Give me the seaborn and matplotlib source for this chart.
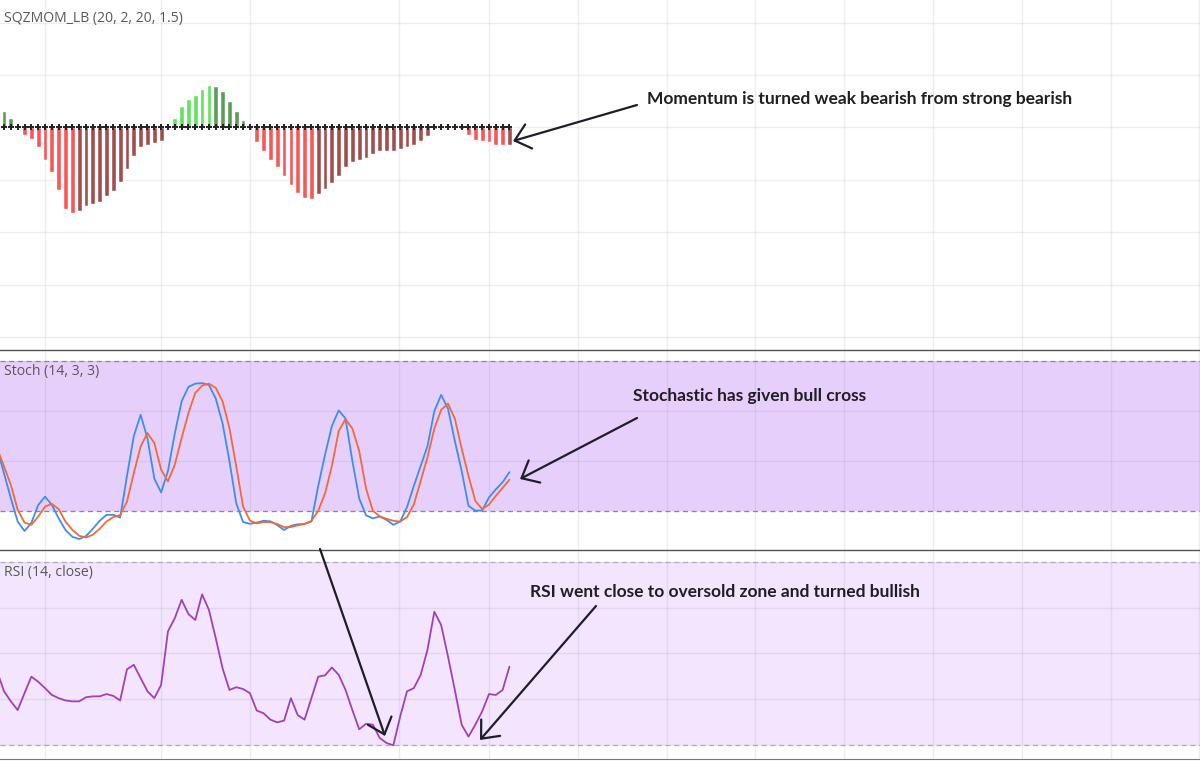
import numpy as np
import pandas as pd
import seaborn as sns
import matplotlib.pyplot as plt

# bar index -1 .. 74 (bar -1 sits just left of the visible area)
bars = list(range(-1, 75))

# squeeze momentum histogram
sqz_values = [24,
              16, 8.9, -0.5, -7.4, -11.2, -19.1, -30.6, -43, -59.3, -77.4,
              -81.3, -79.3, -74.6, -72.7, -70.7, -65, -60.2, -51.6, -39.2, -26.8,
              -19.1, -16.3, -15.3, -13.4, 0.5, 8.6, 20.1, 26.8, 30.6, 36.3,
              40.2, 39.2, 34.4, 24.9, 15.3, 6.7, -2.6, -14.3, -22.7, -30.6,
              -38.2, -46.8, -54.5, -62.1, -66.9, -67.9, -64, -58.3, -53.5, -45.9,
              -37.3, -32.5, -30.6, -28.7, -25.8, -22.9, -22, -22, -21, -18.2,
              -16.3, -13.4, -8.6, -1, 1.4, 2.4, 2.6, -1.9, -7.4, -11.5,
              -13.4, -14.3, -16.3, -17.2, -16.3]

# stochastic %K and %D
stoch_k = [45,
           35, 25, 15.7, 11.9, 15.2, 22.3, 25.7, 22.4, 17, 12.3,
           9.6, 8.7, 9.9, 12.8, 16, 18.4, 18.4, 17.3, 34, 50,
           58.5, 49, 33, 27.4, 36, 51, 63.9, 69.7, 71, 71.2,
           70.5, 65, 55, 40, 23, 15.5, 14.8, 15.3, 16, 15.8,
           14.3, 12.3, 14, 14.6, 14.8, 15.7, 30, 42.5, 54, 60.3,
           57, 40, 25, 18.2, 17, 17.7, 16.4, 14.4, 15.7, 21.5,
           30, 38, 46, 60, 66.5, 61, 48, 36, 22, 20.1,
           20.1, 25.4, 28.6, 31.5, 35.5]
stoch_d = [45,
           37.8, 30.4, 20.4, 15.3, 14.4, 17.7, 21.7, 22.8, 20.7, 15.7,
           12.4, 10, 9.3, 10.4, 12.8, 15.7, 17.5, 18.3, 23.7, 35.1,
           45.8, 51.2, 47.2, 36.5, 31.8, 38.5, 49.2, 59.2, 67.3, 70.2,
           71, 69.3, 63.9, 53.2, 37.8, 21.7, 16.1, 15, 15.5, 15.5,
           14.7, 13.5, 13.5, 14.2, 14.7, 16, 20, 27, 38, 52,
           56.8, 53, 44, 29, 20, 17.8, 16.8, 16, 15.7, 17.5,
           22.6, 32, 41.5, 53, 60.5, 63, 57, 45, 34, 24,
           20.7, 22.5, 26, 29.2, 32.5]

# RSI (14, close)
rsi_values = [46,
              41.7, 39.5, 37.6, 41.3, 44.9, 43.8, 42.4, 40.9, 40.2, 39.7,
              39.5, 39.5, 40.4, 40.6, 40.6, 41.1, 40.7, 39.7, 46.5, 47.5,
              44.6, 41.7, 40.2, 43.1, 54.8, 57.7, 61.7, 58.6, 57.3, 62.9,
              59.5, 53.3, 46.7, 42, 42.6, 42.2, 41.3, 37.5, 36.9, 35.5,
              34.9, 35.3, 40.2, 36.5, 35.5, 40.2, 44.9, 45.2, 46.9, 45.3,
              42, 37.6, 33.4, 34.6, 34.4, 31.5, 30.4, 29.9, 36.2, 41.7,
              42.4, 45.3, 50.8, 59.1, 56.2, 49.3, 42, 34.4, 31.8, 34.4,
              37.3, 41.1, 40.9, 42, 47.1]

# time axis grid (bar positions of the date marks)
time_grid = [6, 23, 36, 57.8, 71, 84, 97, 110, 123, 136, 149, 162, 175]

# bar colouring as in the SQZMOM_LB script
states = []
for i, v in enumerate(sqz_values):
    prev = sqz_values[i - 1] if i > 0 else v
    if v > 0:
        states.append("lime" if v > prev else "green")
    else:
        states.append("red" if v < prev else "maroon")
palette = {"lime": "#5ee45e", "green": "#599f59", "red": "#fb5656", "maroon": "#a14f4e"}

sqz = pd.DataFrame({"bar": bars, "momentum": sqz_values, "state": states})
osc = pd.DataFrame({"bar": bars, "k": stoch_k, "d": stoch_d, "rsi": rsi_values})

sns.set_style("white")
plt.rcParams["font.family"] = ["Lato", "DejaVu Sans"]

W, H = 1200, 761
fig = plt.figure(figsize=(W / 100, H / 100), dpi=100)
ax1 = fig.add_axes([0, (H - 349.5) / H, 1, 349.5 / H])
ax2 = fig.add_axes([0, (H - 550) / H, 1, 200.5 / H])
ax3 = fig.add_axes([0, (H - 759) / H, 1, 209 / H])

grid_kw = dict(color="#6a7a8a", alpha=0.12, linewidth=1)
title_kw = dict(fontsize=10.1, color="#585858", va="center",
                family=["Open Sans", "DejaVu Sans"])

# --- squeeze momentum ---
sns.barplot(data=sqz, x="bar", y="momentum", hue="state", palette=palette,
            native_scale=True, dodge=False, width=0.7, saturation=1,
            errorbar=None, legend=False, ax=ax1, zorder=2)
sns.scatterplot(x=bars, y=np.zeros(len(bars)), marker="+", s=18, color="#222222",
                linewidth=1.4, ax=ax1, zorder=3)
ax1.set_ylim(-212, 121.7)
ax1.set_yticks([100, 50, 0, -50, -100, -150, -200])
ax1.text(0.003, 0.946, "SQZMOM_LB (20, 2, 20, 1.5)", transform=ax1.transAxes, **title_kw)

# --- stochastic ---
ax2.axhspan(20, 80, color="#e7cffc", zorder=0.2, linewidth=0)
for lvl in (20, 80):
    ax2.axhline(lvl, color="#8a8a8a", linestyle=(0, (4, 3)), linewidth=0.9, zorder=1)
sns.lineplot(data=osc, x="bar", y="k", color="#3b8ef0", linewidth=1.3, ax=ax2, zorder=3)
sns.lineplot(data=osc, x="bar", y="d", color="#f2693c", linewidth=1.3, ax=ax2, zorder=3)
ax2.set_ylim(4.3, 84.7)
ax2.set_yticks([20, 40, 60, 80])
ax2.text(0.003, 0.89, "Stoch (14, 3, 3)", transform=ax2.transAxes, **title_kw)

# --- RSI ---
ax3.axhspan(30, 70, color="#f2e5fd", zorder=0.2, linewidth=0)
for lvl in (30, 70):
    ax3.axhline(lvl, color="#b4a8c4", linestyle=(0, (4, 3)), linewidth=0.9, zorder=1)
sns.lineplot(data=osc, x="bar", y="rsi", color="#a23fbd", linewidth=1.3, ax=ax3, zorder=3)
ax3.set_ylim(26.9, 72.6)
ax3.set_yticks([30, 40, 50, 60, 70])
ax3.text(0.003, 0.89, "RSI (14, close)", transform=ax3.transAxes, **title_kw)

for ax in (ax1, ax2, ax3):
    ax.set_xlim(-0.59, 175.1)
    ax.set_xticks(time_grid)
    ax.grid(True, **grid_kw)
    ax.set_axisbelow(True)
    ax.set_xlabel("")
    ax.set_ylabel("")
    ax.tick_params(labelleft=False, labelbottom=False, length=0)
    ax.set_facecolor("none")
    for side in ("left", "right", "top", "bottom"):
        ax.spines[side].set_visible(False)

for ax in (ax2, ax3):
    ax.spines["top"].set_visible(True)
    ax.spines["top"].set_color("#555555")
    ax.spines["top"].set_linewidth(1)
ax3.spines["bottom"].set_visible(True)
ax3.spines["bottom"].set_color("#777777")
ax3.tick_params(axis="x", length=6, color="#777777", direction="out")

# --- hand-drawn style notes (figure pixels, origin top-left) ---
def px(x, y):
    return (x / W, 1 - y / H)

note_kw = dict(fontsize=12.5, fontweight="bold", color="#1e1e24", va="center", ha="left")
fig.text(*px(647, 99), "Momentum is turned weak bearish from strong bearish", **note_kw)
fig.text(*px(633, 396), "Stochastic has given bull cross", **note_kw)
fig.text(*px(530, 592), "RSI went close to oversold zone and turned bullish", **note_kw)

arrows = [((637, 105), (513, 141)),
          ((637, 418), (520, 479)),
          ((596, 606), (480, 740)),
          ((320, 549), (385, 736))]
for tail, tip in arrows:
    ax3.annotate("", xy=px(*tip), xytext=px(*tail),
                 xycoords="figure fraction", textcoords="figure fraction",
                 arrowprops=dict(arrowstyle="->, head_length=0.7, head_width=0.6",
                                 color="#1e1e2a", lw=1.6, mutation_scale=15,
                                 shrinkA=0, shrinkB=0))

fig.savefig("out.png", dpi=100)
